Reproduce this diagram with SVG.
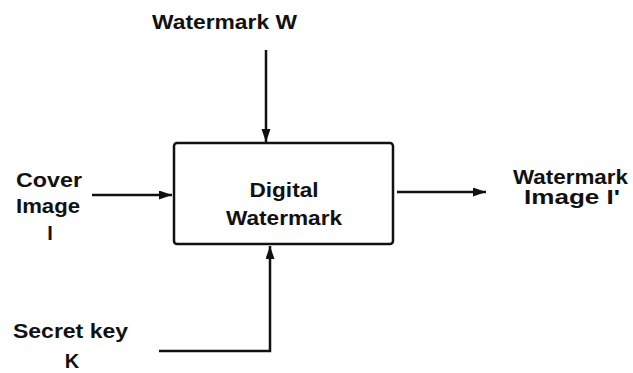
<svg xmlns="http://www.w3.org/2000/svg" width="633" height="373" viewBox="0 0 633 373">
  <style>
    .lbl { font-family: "Liberation Sans", Arial, sans-serif; font-weight: bold; font-size: 20px; fill: #111; text-anchor: middle; }
    .box { fill: #fff; stroke: #111; stroke-width: 2.5; }
    .wire { fill: none; stroke: #111; stroke-width: 2.5; }
  </style>
  <defs>
    <marker id="arrow" markerUnits="userSpaceOnUse" markerWidth="14" markerHeight="10" refX="13" refY="4.5" orient="auto">
      <path d="M0,0 L13,4.5 L0,9 Z" fill="#111"/>
    </marker>
  </defs>
  <rect width="633" height="373" fill="#fff"/>

  <g id="connectors">
    <line class="wire" x1="266" y1="50" x2="266" y2="142" marker-end="url(#arrow)"/>
    <line class="wire" x1="92" y1="195" x2="172" y2="195" marker-end="url(#arrow)"/>
    <line class="wire" x1="397" y1="192" x2="486" y2="192" marker-end="url(#arrow)"/>
    <polyline class="wire" points="159,351 270,351 270,246" marker-end="url(#arrow)"/>
  </g>

  <g id="embedder">
    <rect class="box" x="174" y="143" width="219" height="101" rx="3"/>
    <text class="lbl" x="284" y="197" textLength="69" lengthAdjust="spacingAndGlyphs">Digital</text>
    <text class="lbl" x="284" y="225" textLength="116" lengthAdjust="spacingAndGlyphs">Watermark</text>
  </g>

  <g id="watermark">
    <text class="lbl" x="224.5" y="29" textLength="145" lengthAdjust="spacingAndGlyphs">Watermark W</text>
  </g>

  <g id="cover">
    <text class="lbl" x="49" y="187" textLength="66" lengthAdjust="spacingAndGlyphs">Cover</text>
    <text class="lbl" x="48" y="213" textLength="64" lengthAdjust="spacingAndGlyphs">Image</text>
    <text class="lbl" x="50" y="240">I</text>
  </g>

  <g id="output">
    <text class="lbl" x="570.5" y="184" textLength="115" lengthAdjust="spacingAndGlyphs">Watermark</text>
    <text class="lbl" x="572" y="204" textLength="96" lengthAdjust="spacingAndGlyphs">Image I'</text>
  </g>

  <g id="key">
    <text class="lbl" x="70.5" y="338" textLength="115" lengthAdjust="spacingAndGlyphs">Secret key</text>
    <text class="lbl" x="72" y="368">K</text>
  </g>
</svg>
